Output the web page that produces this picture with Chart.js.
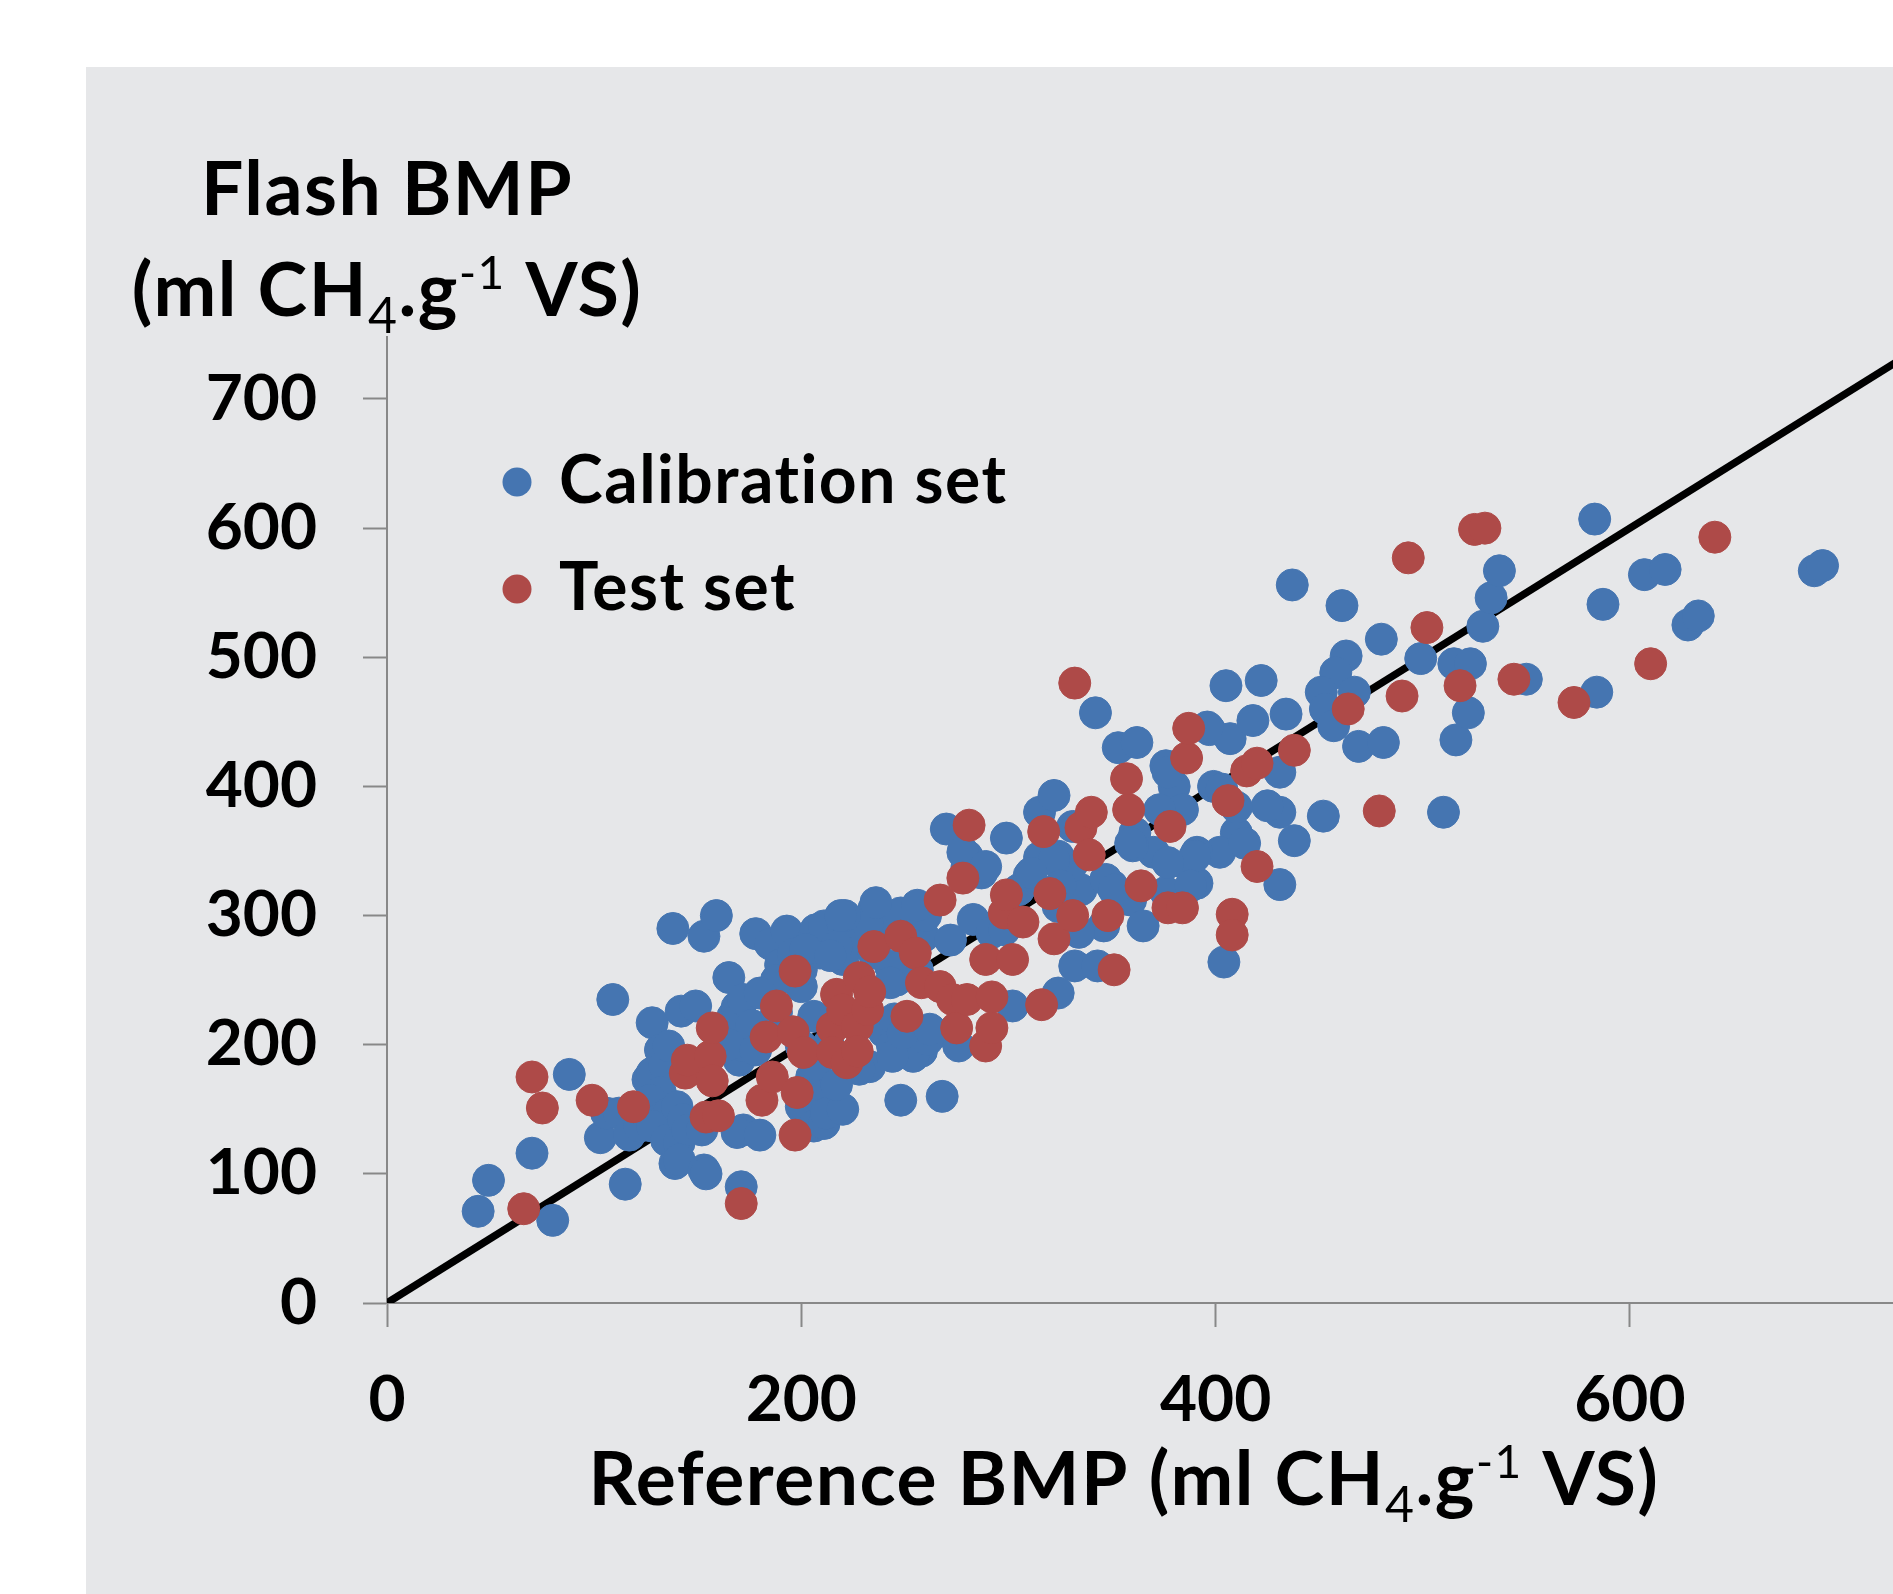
<!DOCTYPE html>
<html>
<head>
<meta charset="utf-8">
<script src="https://cdn.jsdelivr.net/npm/chart.js@4/dist/chart.umd.min.js"></script>
<style>
  html, body { margin: 0; padding: 0; background: #fff; }
  canvas { display: block; }
</style>
</head>
<body>
<canvas class="grafico" width="1893" height="1594"></canvas>
<script>
const canvas = document.querySelector('.grafico');

// Reference BMP (x) vs Flash BMP (y), ml CH4/g VS
const calibrationSet = [
  [44,71],[49,95],[70,116],[80,64],[88,177],[109,235],[115,92],[103,128],[106,147],[112,147],[117,130],[122,137],
  [128,217],[126,173],[128,178],[132,196],[134,184],[132,163],[127,157],[133,144],[136,147],[128,137],[135,126],
  [140,152],[143,142],[141,124],[145,134],[139,108],[141,111],[153,103],[154,100],[152,134],[171,90],[172,134],
  [169,132],[180,130],[136,199],[138,290],[153,284],[159,300],[178,286],[185,278],[193,288],[165,252],[142,226],
  [149,230],[167,222],[169,229],[169,219],[174,204],[170,188],[172,199],
  [172,235],[176,215],[165,200],[178,196],[190,262],[200,245],[205,280],[196,270],[188,250],
  [205,175],[210,160],[207,185],[213,200],[240,210],[250,200],[258,195],[245,220],
  [225,280],[240,285],[255,290],[305,320],[315,345],[335,320],
  [200,152],[206,137],[211,139],[212,147],[220,150],[200,258],[209,271],[220,266],[235,271],[246,250],[256,258],
  [207,289],[211,292],[220,294],[235,305],[246,298],[248,302],[259,284],[260,300],[272,281],[283,297],[232,294],
  [236,310],[221,300],[217,276],[202,274],[214,269],[243,261],[243,248],[180,240],[188,225],[206,222],[200,199],
  [244,199],[254,191],[261,204],[272,209],[276,199],[233,183],[226,188],[228,181],[244,191],[249,209],[262,212],
  [248,157],[268,160],[280,338],[302,230],[217,169],[292,287],[256,308],
  [270,367],[280,346],[287,333],[299,360],[315,380],[322,393],[331,369],[342,457],[353,430],[362,434],[376,416],
  [380,400],[361,364],[370,349],[350,323],[359,312],[376,318],[387,338],[346,292],[365,292],[334,287],[324,307],
  [330,338],[324,346],[332,261],[343,261],[324,240],[298,289],[278,349],[289,338],[310,331],[322,343],[325,323],
  [347,328],[360,354],[399,400],[384,382],[410,364],[402,349],[391,349],[391,325],[405,478],[397,444],[407,437],
  [219,300],
  [437,556],[461,540],[480,514],[463,501],[458,488],[451,473],[467,473],[499,499],[515,495],[523,495],[529,524],
  [533,546],[537,567],[422,482],[434,456],[418,451],[396,446],[453,460],[457,447],[469,431],[481,434],[510,380],
  [452,377],[431,380],[425,385],[438,358],[431,324],[410,384],[403,398],[431,411],[377,411],[373,382],[359,356],
  [414,356],[390,346],[377,341],[311,333],[351,320],[388,323],[404,264],[516,436],[522,457],[550,483],[583,607],
  [584,473],[587,541],[607,564],[617,568],[628,525],[633,532],[689,567],[693,571]
];

const testSet = [
  [66,73],[70,175],[75,151],[99,157],[119,152],[144,178],[145,188],[156,191],[157,213],[157,172],[154,144],
  [160,145],[171,77],[181,157],[183,206],[186,175],[188,230],[196,210],[197,257],[197,130],[198,163],[201,194],
  [215,213],[215,194],[217,239],[220,227],[222,186],[227,214],[227,195],[228,252],[232,227],[233,241],[235,276],
  [248,284],[251,222],[255,271],[258,248],[267,245],[267,312],[273,235],[275,213],[278,329],[280,235],[281,370],
  [289,266],[289,199],[292,237],[292,213],[298,302],[299,316],[302,266],[307,295],[316,231],[317,365],[320,317],
  [322,282],[331,300],[332,480],[335,368],[339,347],[340,380],[358,382],[348,300],[351,258],[357,406],[364,323],
  [378,369],[377,306],[384,306],[386,422],[387,445],[406,389],[408,301],[408,285],[415,412],[420,418],[420,338],
  [438,428],[464,460],[479,381],[490,470],[493,577],[502,523],[518,478],[525,599],[530,600],[544,483],[573,465],
  [610,495],[641,593]
];

const identityLine = [0, 760];
const xTicks = [0, 200, 400, 600];
const yTicks = [0, 100, 200, 300, 400, 500, 600, 700];
const xMax = 727;
const yMax = 748;

const blue = '#4575B1';
const red = '#AE4A48';
const axisGray = '#888888';
const toPoints = (arr) => arr.map((p) => ({ x: p[0], y: p[1] }));

Chart.defaults.font.family = 'Lato';

const fondo = {
  id: 'fondo',
  beforeDraw(chart) {
    const ctx = chart.ctx;
    ctx.save();
    ctx.fillStyle = '#ffffff';
    ctx.fillRect(0, 0, chart.width, chart.height);
    ctx.fillStyle = '#E6E7E9';
    ctx.fillRect(86, 67, chart.width - 86, chart.height - 67);
    ctx.restore();
  }
};

function drawRich(ctx, parts, cx, baseline) {
  let total = 0;
  parts.forEach((p) => {
    ctx.font = p.font;
    p.w = ctx.measureText(p.text).width;
    total += p.w;
  });
  let x = cx - total / 2;
  parts.forEach((p) => {
    ctx.font = p.font;
    ctx.fillText(p.text, x, baseline + (p.dy || 0));
    x += p.w;
  });
}

const bold = 'bold 75px Lato';
const subFont = '50px Lato';
const supFont = '46px Lato';
const unitParts = (prefix) => [
  { text: prefix + '(ml CH', font: bold },
  { text: '4', font: subFont, dy: 17 },
  { text: '.g', font: bold },
  { text: '-1', font: supFont, dy: -27 },
  { text: ' VS)', font: bold }
];

const textos = {
  id: 'textos',
  afterDraw(chart) {
    const ctx = chart.ctx;
    const area = chart.chartArea;
    ctx.save();
    ctx.fillStyle = '#000';
    ctx.textAlign = 'left';
    ctx.textBaseline = 'alphabetic';
    ctx.letterSpacing = '1.5px';
    // y title, two lines centred on the y axis
    drawRich(ctx, [{ text: 'Flash BMP', font: bold }], area.left, 215);
    drawRich(ctx, unitParts(''), area.left, 316);
    // x title
    drawRich(ctx, unitParts('Reference BMP '), 1124, 1505);

    // legend
    const items = [['Calibration set', blue, 482], ['Test set', red, 589]];
    items.forEach(([label, color, cy]) => {
      ctx.fillStyle = color;
      ctx.beginPath();
      ctx.arc(517, cy, 14.5, 0, Math.PI * 2);
      ctx.fill();
      ctx.fillStyle = '#000';
      ctx.font = 'bold 66px Lato';
      ctx.textBaseline = 'middle';
      ctx.fillText(label, 559, cy);
    });
    ctx.restore();
  }
};

const axisCommon = {
  type: 'linear',
  grid: {
    drawOnChartArea: false,
    drawTicks: true,
    tickLength: 24,
    tickColor: axisGray,
    tickWidth: 2
  },
  border: { display: true, color: axisGray, width: 2 }
};

new Chart(canvas, {
  type: 'scatter',
  data: {
    datasets: [
      {
        label: 'Test set',
        data: toPoints(testSet),
        backgroundColor: red,
        borderColor: red,
        borderWidth: 1,
        pointRadius: 16,
        pointHoverRadius: 16,
        order: 0
      },
      {
        label: 'Calibration set',
        data: toPoints(calibrationSet),
        backgroundColor: blue,
        borderColor: blue,
        borderWidth: 1,
        pointRadius: 16,
        pointHoverRadius: 16,
        order: 1
      },
      {
        label: '1:1',
        data: identityLine.map((v) => ({ x: v, y: v })),
        showLine: true,
        borderColor: '#000',
        borderWidth: 7.5,
        pointRadius: 0,
        order: 2
      }
    ]
  },
  options: {
    responsive: false,
    animation: false,
    devicePixelRatio: 1,
    events: [],
    layout: { autoPadding: false, padding: { top: 337, right: 0, bottom: 0, left: 0 } },
    plugins: { legend: { display: false }, tooltip: { enabled: false } },
    scales: {
      x: {
        ...axisCommon,
        min: 0,
        max: xMax,
        afterBuildTicks: (s) => { s.ticks = xTicks.map((v) => ({ value: v })); },
        afterFit: (s) => { s.height = 291; s.paddingLeft = 0; s.paddingRight = 0; },
        ticks: {
          color: '#000',
          font: { family: 'Lato', weight: 'bold', size: 64 },
          padding: 35,
          maxRotation: 0,
          autoSkip: false
        }
      },
      y: {
        ...axisCommon,
        min: 0,
        max: yMax,
        afterBuildTicks: (s) => { s.ticks = yTicks.map((v) => ({ value: v })); },
        afterFit: (s) => { s.width = 387; s.paddingTop = 0; s.paddingBottom = 0; },
        ticks: {
          color: '#000',
          font: { family: 'Lato', weight: 'bold', size: 64 },
          padding: 46,
          autoSkip: false
        }
      }
    }
  },
  plugins: [fondo, textos]
});
</script>
</body>
</html>
